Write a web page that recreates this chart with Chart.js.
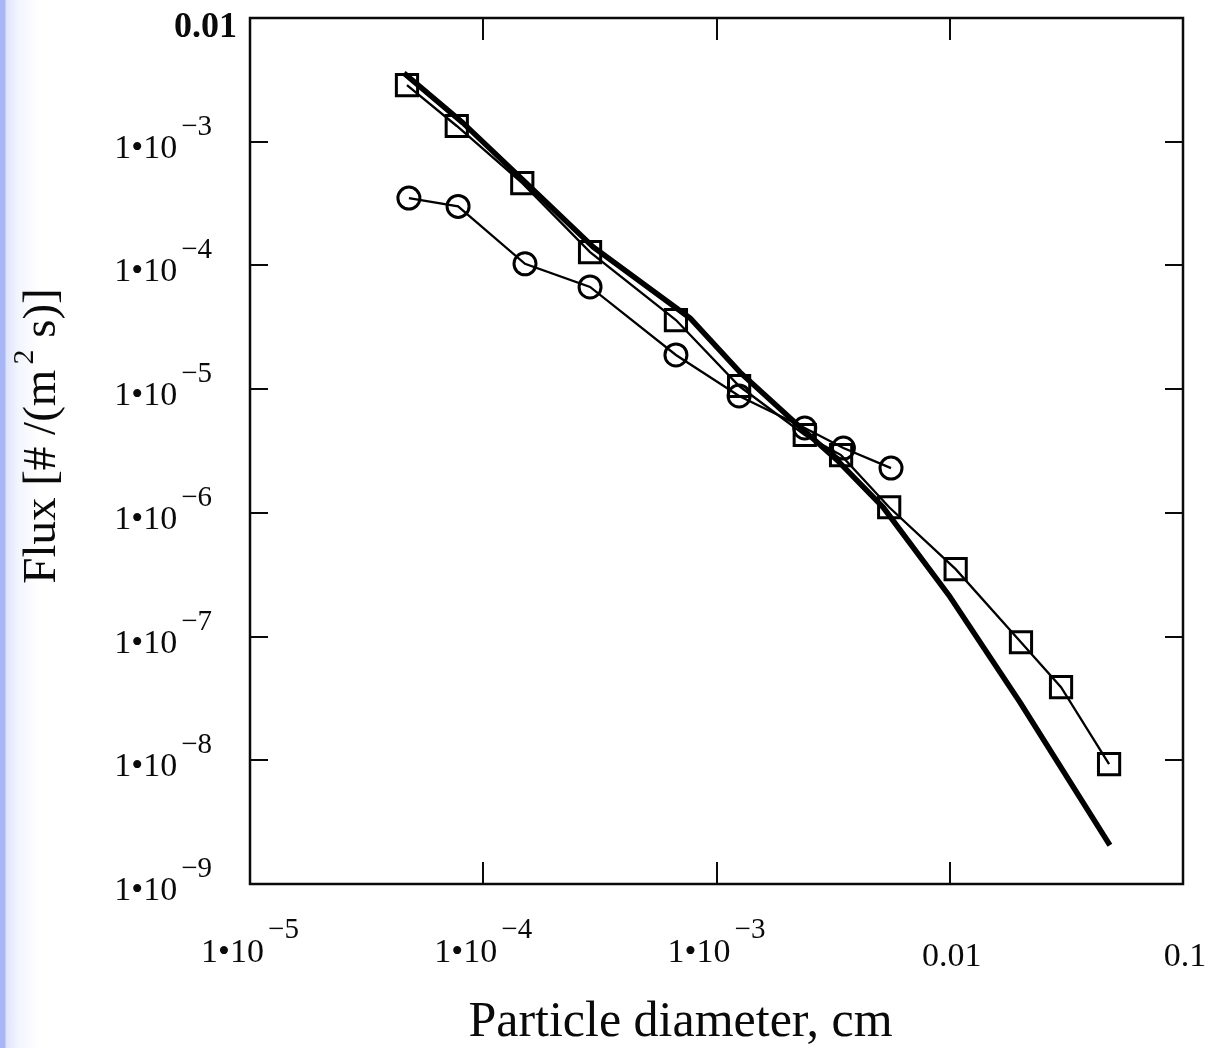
<!DOCTYPE html>
<html><head><meta charset="utf-8">
<script src="https://cdn.jsdelivr.net/npm/chart.js@4.4.1/dist/chart.umd.min.js"></script>
<style>
html,body{margin:0;padding:0;width:1211px;height:1048px;overflow:hidden;
background:linear-gradient(to right,#a6b6f6 0px,#a6b6f6 5px,#dde4fb 6px,#f3f5fe 18px,#ffffff 40px);}
#wrap{position:absolute;left:0;top:0;width:1211px;height:1048px;}
canvas{display:block;}
</style></head><body>
<div id="wrap"><canvas id="c" width="1211" height="1048"></canvas></div>
<script>
// Square series (measured flux)
const squareX = [4.71e-5, 7.7e-5, 1.47e-4, 2.87e-4, 6.7e-4, 1.25e-3, 2.39e-3, 3.42e-3, 5.5e-3, 0.0106, 0.0202, 0.030, 0.0482];
const squareY = [2.87e-3, 1.34e-3, 4.63e-4, 1.28e-4, 3.62e-5, 1.06e-5, 4.26e-6, 2.93e-6, 1.11e-6, 3.51e-7, 9.0e-8, 3.9e-8, 9.3e-9];
// Circle series
const circleX = [4.8e-5, 7.8e-5, 1.51e-4, 2.87e-4, 6.7e-4, 1.25e-3, 2.39e-3, 3.5e-3, 5.6e-3];
const circleY = [3.5e-4, 3.0e-4, 1.03e-4, 6.7e-5, 1.89e-5, 8.8e-6, 4.85e-6, 3.34e-6, 2.3e-6];
// Thick model curve
const modelX = [4.57e-5, 8.18e-5, 1.48e-4, 2.96e-4, 7.69e-4, 1.26e-3, 2.28e-3, 3.29e-3, 5.18e-3, 0.01003, 0.0200, 0.0486];
const modelY = [3.59e-3, 1.42e-3, 4.90e-4, 1.41e-4, 3.76e-5, 1.37e-5, 4.94e-6, 2.67e-6, 1.11e-6, 2.09e-7, 2.95e-8, 2.06e-9];

const xTickValues = [1e-5, 1e-4, 1e-3, 1e-2, 1e-1];
const xTickBase = ['1\u202210', '1\u202210', '1\u202210', '0.01', '0.1'];
const xTickSup = ['\u22125', '\u22124', '\u22123', '', ''];
const yTickValues = [1e-9, 1e-8, 1e-7, 1e-6, 1e-5, 1e-4, 1e-3, 1e-2];
const yTickBase = ['1\u202210', '1\u202210', '1\u202210', '1\u202210', '1\u202210', '1\u202210', '1\u202210', '0.01'];
const yTickSup = ['\u22129', '\u22128', '\u22127', '\u22126', '\u22125', '\u22124', '\u22123', ''];

const xTitle = 'Particle diameter, cm';
const yTitleParts = ['Flux [# /(m', '2', ' s)]'];

const SERIF = '"Liberation Serif", "DejaVu Serif", serif';

function pts(xs, ys) { return xs.map((x, i) => ({ x: x, y: ys[i] })); }

function drawLabel(ctx, base, sup, x, baseY, supY, align, bold) {
  const bf = (bold ? 'bold 36px ' : '34px ') + SERIF;
  const sf = '29px ' + SERIF;
  ctx.font = bf; const wb = ctx.measureText(base).width;
  ctx.font = sf; const ws = sup ? ctx.measureText(sup).width : 0;
  const gap = sup ? 4 : 0;
  const total = wb + gap + ws;
  const left = align === 'center' ? x - total / 2 : x - total;
  ctx.textAlign = 'left'; ctx.textBaseline = 'alphabetic';
  ctx.font = bf; ctx.fillText(base, left, baseY);
  if (sup) { ctx.font = sf; ctx.fillText(sup, left + wb + gap, supY); }
}

const framePlugin = {
  id: 'frame',
  beforeDatasetsDraw(chart) {
    const { ctx, chartArea: a, scales } = chart;
    ctx.save();
    ctx.strokeStyle = '#0a0a0a';
    ctx.lineWidth = 2.5;
    ctx.strokeRect(a.left, a.top, a.right - a.left, a.bottom - a.top);
    ctx.lineWidth = 2;
    ctx.beginPath();
    xTickValues.forEach(v => {
      const px = Math.round(scales.x.getPixelForValue(v));
      if (px <= a.left + 1 || px >= a.right - 1) return;
      ctx.moveTo(px, a.bottom); ctx.lineTo(px, a.bottom - 22);
      ctx.moveTo(px, a.top); ctx.lineTo(px, a.top + 22);
    });
    yTickValues.forEach(v => {
      const py = Math.round(scales.y.getPixelForValue(v));
      if (py <= a.top + 1 || py >= a.bottom - 1) return;
      ctx.moveTo(a.left, py); ctx.lineTo(a.left + 18, py);
      ctx.moveTo(a.right, py); ctx.lineTo(a.right - 18, py);
    });
    ctx.stroke();
    ctx.restore();
  },
  afterDraw(chart) {
    const { ctx, chartArea: a, scales } = chart;
    ctx.save();
    ctx.fillStyle = '#0a0a0a';
    xTickValues.forEach((v, i) => {
      const px = scales.x.getPixelForValue(v);
      if (xTickSup[i]) drawLabel(ctx, xTickBase[i], xTickSup[i], px, a.bottom + 78, a.bottom + 54, 'center', false);
      else drawLabel(ctx, xTickBase[i], '', px + 2, a.bottom + 82, 0, 'center', false);
    });
    yTickValues.forEach((v, i) => {
      const py = scales.y.getPixelForValue(v);
      if (yTickSup[i]) drawLabel(ctx, yTickBase[i], yTickSup[i], a.left - 38, py + 16, py - 7, 'right', false);
      else drawLabel(ctx, yTickBase[i], '', a.left - 13, py + 19, 0, 'right', true);
    });
    // x title
    ctx.font = '50px ' + SERIF;
    ctx.textAlign = 'center'; ctx.textBaseline = 'alphabetic';
    ctx.fillText(xTitle, (a.left + a.right) / 2 - 36, 1036);
    // y title (rotated, with superscript)
    const mf = '47px ' + SERIF, sf = '30px ' + SERIF;
    ctx.font = mf; const w1 = ctx.measureText(yTitleParts[0]).width; const w3 = ctx.measureText(yTitleParts[2]).width;
    ctx.font = sf; const w2 = ctx.measureText(yTitleParts[1]).width;
    const g = 5; const tot = w1 + g + w2 + w3;
    ctx.translate(55, 436);
    ctx.rotate(-Math.PI / 2);
    ctx.textAlign = 'left';
    let x0 = -tot / 2;
    ctx.font = mf; ctx.fillText(yTitleParts[0], x0, 0);
    x0 += w1 + g;
    ctx.font = sf; ctx.fillText(yTitleParts[1], x0, -22);
    x0 += w2;
    ctx.font = mf; ctx.fillText(yTitleParts[2], x0, 0);
    ctx.restore();
  }
};

new Chart(document.getElementById('c'), {
  type: 'scatter',
  data: {
    datasets: [
      { label: 'model', data: pts(modelX, modelY), showLine: true, borderColor: '#000', borderWidth: 5.5,
        pointRadius: 0, fill: false, tension: 0, borderCapStyle: 'butt', borderJoinStyle: 'round' },
      { label: 'squares', data: pts(squareX, squareY), showLine: true, borderColor: '#000', borderWidth: 2.3,
        pointStyle: 'rect', pointRadius: 15, pointBorderWidth: 3, pointBorderColor: '#000',
        pointBackgroundColor: 'rgba(0,0,0,0)', fill: false, tension: 0 },
      { label: 'circles', data: pts(circleX, circleY), showLine: true, borderColor: '#000', borderWidth: 2.3,
        pointStyle: 'circle', pointRadius: 11, pointBorderWidth: 3, pointBorderColor: '#000',
        pointBackgroundColor: 'rgba(0,0,0,0)', fill: false, tension: 0 }
    ]
  },
  options: {
    responsive: false, animation: false, devicePixelRatio: 1,
    layout: { padding: { left: 250, right: 28, top: 18, bottom: 164 } },
    plugins: { legend: { display: false }, tooltip: { enabled: false } },
    scales: {
      x: { type: 'logarithmic', min: 1e-5, max: 0.1, display: false },
      y: { type: 'logarithmic', min: 1e-9, max: 1e-2, display: false }
    }
  },
  plugins: [framePlugin]
});
</script>
</body></html>
